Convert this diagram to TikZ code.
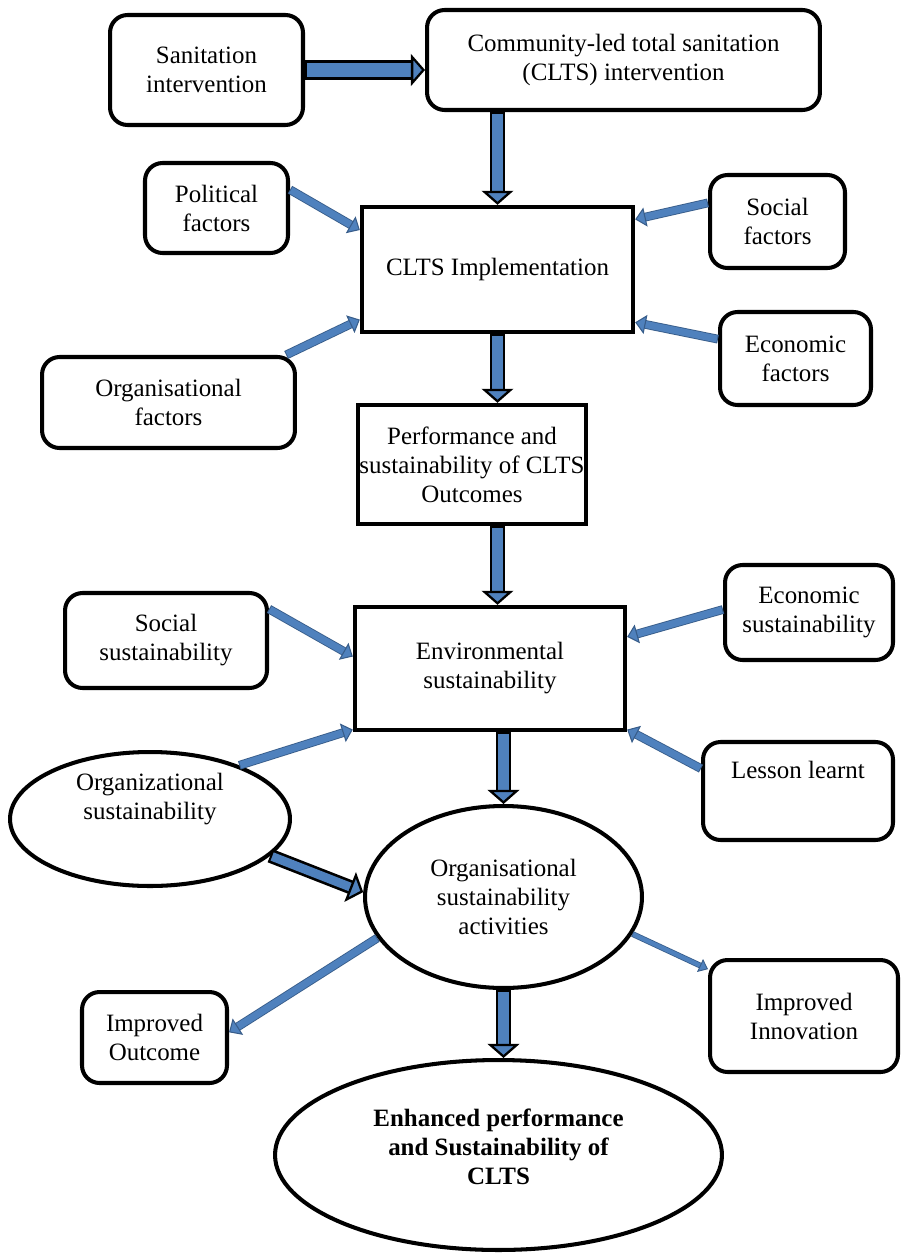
\documentclass[tikz,border=0pt]{standalone}
\usepackage{fontspec}
\setmainfont{Liberation Serif}
\usetikzlibrary{shapes.geometric, arrows.meta}

\definecolor{arrowblue}{RGB}{79,129,189}
\definecolor{arrowedge}{RGB}{56,93,138}

\tikzset{
  txt/.style={font=\fontsize{14.2}{16.5}\selectfont, align=center},
  rbox/.style={txt, draw, line width=2.3pt, rounded corners=10pt},
  sbox/.style={txt, draw, line width=2.5pt},
  oval/.style={txt, ellipse, draw, line width=2.3pt, inner sep=0pt},
  bigarrow/.style={draw=arrowblue, line width=#1, shorten <=1.2pt,
    -{Triangle[color=black, fill=arrowblue, line width=1.3pt, length=8pt, width=18pt]},
    preaction={draw=black, line width=#1+3pt, arrows=-, shorten <=0pt, shorten >=5pt}},
  thinarrow/.style={draw=arrowblue, line width=4pt, shorten <=0.6pt,
    -{Triangle[color=arrowedge, fill=arrowblue, line width=0.6pt, length=6pt, width=11pt]},
    preaction={draw=arrowedge, line width=5pt, arrows=-, shorten <=0pt, shorten >=3pt}},
  slimarrow/.style={draw=arrowblue, line width=2.4pt, shorten <=0.5pt,
    -{Triangle[color=arrowedge, fill=arrowblue, line width=0.5pt, length=5pt, width=8pt]},
    preaction={draw=arrowedge, line width=3.3pt, arrows=-, shorten <=0pt, shorten >=2.5pt}}
}

\begin{document}
\begin{tikzpicture}[x=0.02cm, y=-0.02cm]
    \useasboundingbox (0,0) rectangle (902,1254);

    % Intervention
    \node[rbox, minimum width=3.86cm, minimum height=2.2cm] (san) at (206.5,70) {Sanitation\\intervention};
    \node[rbox, minimum width=7.86cm, minimum height=2cm] (clts) at (623.5,60) {Community-led total sanitation\\(CLTS) intervention};

    % Implementation and its factors
    \node[sbox, minimum width=5.42cm, minimum height=2.5cm] (impl) at (497.5,269.5) {CLTS Implementation};
    \node[rbox, minimum width=2.86cm, minimum height=1.8cm] (pol) at (216.5,208) {Political\\factors};
    \node[rbox, minimum width=2.7cm, minimum height=1.86cm] (socf) at (777.5,221.5) {Social\\factors};
    \node[rbox, minimum width=3.02cm, minimum height=1.86cm] (ecof) at (795.5,358.5) {Economic\\factors};
    \node[rbox, minimum width=5.06cm, minimum height=1.82cm] (orgf) at (168.5,402.5) {Organisational\\factors};

    % Outcomes
    \node[sbox, minimum width=4.32cm, minimum height=2.38cm, inner xsep=1pt] (perf) at (472,464.5) {Performance and\\sustainability of CLTS\\Outcomes};
    \node[sbox, minimum width=5.4cm, minimum height=2.46cm] (env) at (490,668.5) {Environmental\\sustainability};
    \node[rbox, minimum width=4.04cm, minimum height=1.9cm] (socs) at (166,640.5) {Social\\sustainability};
    \node[rbox, minimum width=3.36cm, minimum height=1.9cm] (ecos) at (809,612.5) {Economic\\sustainability};
    \node[rbox, minimum width=3.8cm, minimum height=1.96cm, text depth=24pt] (less) at (798,791) {Lesson learnt};

    % Organisational sustainability
    \node[oval, minimum width=5.6cm, minimum height=2.68cm, text depth=26pt] (orgs) at (150,819) {Organizational\\sustainability};
    \node[oval, minimum width=5.54cm, minimum height=3.64cm] (orgact) at (503.5,897) {Organisational\\sustainability\\activities};
    \node[rbox, minimum width=2.9cm, minimum height=1.82cm] (iout) at (154.5,1037.5) {Improved\\Outcome};
    \node[rbox, minimum width=3.76cm, minimum height=2.24cm] (iinn) at (804,1016) {Improved\\Innovation};
    \node[oval, minimum width=8.94cm, minimum height=3.8cm, text depth=9pt, font=\fontsize{14.2}{16.5}\selectfont\bfseries] (enh) at (498.5,1155) {Enhanced performance\\and Sustainability of\\CLTS};

    % Main flow
    \draw[bigarrow=8pt] (san.east) -- (san.east -| clts.west);
    \draw[bigarrow=6pt] (impl.north |- clts.south) -- (impl.north);
    \draw[bigarrow=6pt] (impl.south) -- (impl.south |- perf.north);
    \draw[bigarrow=6pt] (impl.south |- perf.south) -- (impl.south |- env.north);
    \draw[bigarrow=6pt] (env.south -| orgact.north) -- (orgact.north);
    \draw[bigarrow=6pt] (orgact.south) -- (orgact.south |- enh.north);
    \draw[bigarrow=5pt] (orgs.-17) -- (orgact.178);

    % Factors
    \draw[thinarrow] (pol.14) -- (impl.164);
    \draw[thinarrow] (socf.165) -- (impl.20);
    \draw[thinarrow] (orgf.22) -- (impl.-160);
    \draw[thinarrow] (ecof.166) -- (impl.-21);

    % Sustainability dimensions
    \draw[thinarrow] (socs.17) -- (env.175);
    \draw[thinarrow] (ecos.178) -- (env.13);
    \draw[thinarrow] (orgs.31) -- (env.-156);
    \draw[thinarrow] (less.167) -- (env.-24);

    % Results
    \draw[thinarrow] (orgact.-162) -- (iout.4);
    \draw[slimarrow] (orgact.-16) -- (iinn.154);
\end{tikzpicture}
\end{document}
